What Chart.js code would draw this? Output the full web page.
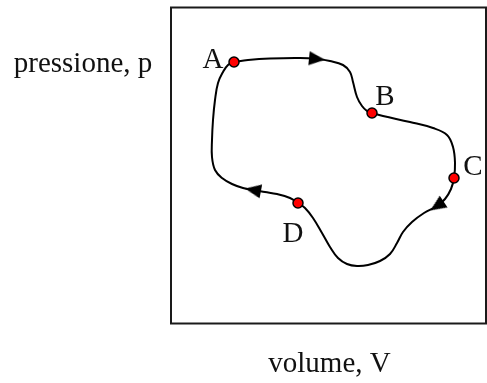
<!DOCTYPE html>
<html><head><meta charset="utf-8">
<script src="https://cdn.jsdelivr.net/npm/chart.js@4/dist/chart.umd.min.js"></script>
<style>html,body{margin:0;padding:0;background:#fff;}canvas{display:block;}</style>
</head><body>
<canvas id="c" width="487" height="383"></canvas>
<script>
// Closed thermodynamic cycle A -> B -> C -> D -> A (volume, pressure in arbitrary units)
const cycleV = [62,76,98,128,145,158,171,178,181,185,190,195,200,211,238,261,275,281,283,282,279,273,265,252,240,231,225,218,208,196,185,175,166,158,150,141,133,126,118,105,93,81,71,60,50,43,40,40,41,43,46,51,56,62];
const cycleP = [261,263,264.5,265,264,262,258,251,241,226,217,212,210,207,201,195,188,176,160,145,134,124,117,110,101,91,80,69,62,58,57,59,65,76,90,105,115,120,125,129,131,133,135,139,145,153,166,183,203,223,240,251,258,261];
const stateNames = ['A','B','C','D'];
const stateV = [62,200,282,126];
const stateP = [261,210,145,120];
const arrowIdx = [4,22,41];
const axisTitleX = 'volume, V';
const axisTitleY = 'pressione, p';

const FONT = '"Liberation Serif", "Times New Roman", serif';

// arrow-head image (points up; rotated per arrow)
const arrowImg = document.createElement('canvas');
arrowImg.width = 14; arrowImg.height = 16;
(function(){
  const g = arrowImg.getContext('2d');
  g.fillStyle = '#000';
  g.beginPath(); g.moveTo(7,0); g.lineTo(14,16); g.lineTo(0,16); g.closePath(); g.fill();
})();

const decor = {
  id: 'decor',
  beforeDatasetsDraw(chart) {
    const {ctx, chartArea: a} = chart;
    ctx.save();
    ctx.strokeStyle = '#1a1a1a';
    ctx.lineWidth = 2;
    ctx.strokeRect(a.left, a.top + 0.5, a.right - a.left, a.bottom - a.top);
    ctx.restore();
  },
  afterDatasetsDraw(chart) {
    const {ctx, chartArea: a, scales: {x, y}} = chart;
    const off = {A: [-21, 6], B: [13, -8], C: [19, -3], D: [-5, 39]};
    ctx.save();
    ctx.fillStyle = '#111';
    ctx.font = '29px ' + FONT;
    ctx.textAlign = 'center';
    ctx.textBaseline = 'alphabetic';
    stateNames.forEach((n, i) => {
      const px = x.getPixelForValue(stateV[i]);
      const py = y.getPixelForValue(stateP[i]);
      ctx.fillText(n, px + off[n][0], py + off[n][1]);
    });
    ctx.fillText(axisTitleX, (a.left + a.right) / 2 + 1, 372);
    ctx.fillText(axisTitleY, 83, 72);
    ctx.restore();
  }
};

function arrowRotation(c) {
  const i = arrowIdx[c.dataIndex];
  if (i === undefined) return 0;
  const sx = c.chart.scales.x, sy = c.chart.scales.y;
  const dx = sx.getPixelForValue(cycleV[i + 1]) - sx.getPixelForValue(cycleV[i - 1]);
  const dy = sy.getPixelForValue(cycleP[i + 1]) - sy.getPixelForValue(cycleP[i - 1]);
  return Math.atan2(dx, -dy) * 180 / Math.PI;
}

new Chart(document.getElementById('c'), {
  type: 'scatter',
  data: {
    datasets: [
      {
        label: 'stati',
        data: stateV.map((v, i) => ({x: v, y: stateP[i]})),
        pointRadius: 5,
        pointBackgroundColor: '#ff0000',
        pointBorderColor: '#000',
        pointBorderWidth: 1.5,
        showLine: false,
        order: 0
      },
      {
        label: 'frecce',
        data: arrowIdx.map(i => ({x: cycleV[i], y: cycleP[i]})),
        pointStyle: arrowImg,
        rotation: arrowRotation,
        showLine: false,
        order: 1
      },
      {
        label: 'ciclo',
        data: cycleV.map((v, i) => ({x: v, y: cycleP[i]})),
        showLine: true,
        borderColor: '#000',
        borderWidth: 2,
        tension: 0.4,
        pointRadius: 0,
        fill: false,
        order: 2
      }
    ]
  },
  options: {
    responsive: false,
    animation: false,
    events: [],
    layout: {autoPadding: false, padding: {left: 171, top: 7, right: 1, bottom: 60}},
    scales: {
      x: {type: 'linear', min: -1, max: 314, display: false},
      y: {type: 'linear', min: 0, max: 316, display: false}
    },
    plugins: {legend: {display: false}, tooltip: {enabled: false}}
  },
  plugins: [decor]
});
</script>
</body></html>
